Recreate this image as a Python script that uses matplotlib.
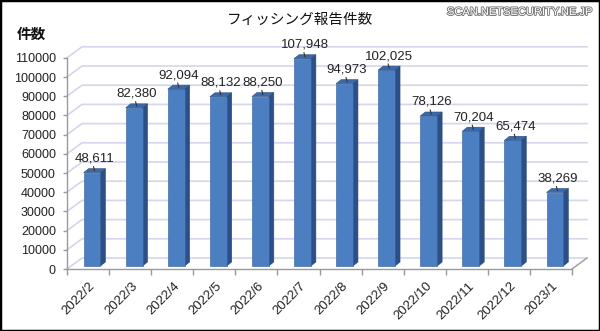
import matplotlib
matplotlib.use('Agg')
import matplotlib.pyplot as plt
import matplotlib.patheffects as pe
from matplotlib.patches import Polygon, Rectangle
from matplotlib.lines import Line2D
from matplotlib.transforms import IdentityTransform, ScaledTranslation

# データ
months = ['2022/2', '2022/3', '2022/4', '2022/5', '2022/6', '2022/7',
          '2022/8', '2022/9', '2022/10', '2022/11', '2022/12', '2023/1']
counts = [48611, 82380, 92094, 88132, 88250, 107948,
          94973, 102025, 78126, 70204, 65474, 38269]
yticks = list(range(0, 110001, 10000))

title = 'フィッシング報告件数'
ylabel = '件数'
credit = 'SCAN.NETSECURITY.NE.JP'

plt.rcParams['font.family'] = ['Liberation Sans', 'Noto Sans CJK JP', 'DejaVu Sans']

# 疑似3Dのオフセット(ピクセル)
wall_dx, wall_dy = 15, 11
bar_dx, bar_dy = 4, 3
side_dx, side_dy = 5, 4

front_c = '#4b7fc2'
side_c = '#2b4f86'
top_c = '#3b6aab'
grid_c = '#d3d6ec'
axis_c = '#9a9a9a'

fig = plt.figure(figsize=(6, 3.31), dpi=100)
ax = fig.add_axes([67 / 600, 62 / 331, 505 / 600, 211.2 / 331])
ax.set_xlim(0, len(months))
ax.set_ylim(0, 110000)
ax.patch.set_visible(False)

for s in ['top', 'right']:
    ax.spines[s].set_visible(False)
for s in ['left', 'bottom']:
    ax.spines[s].set_color(axis_c)
    ax.spines[s].set_linewidth(1.0)

ax.set_yticks(yticks)
ax.set_yticklabels([str(v) for v in yticks])
ax.tick_params(axis='y', length=3, width=1, color=axis_c, pad=5,
               labelsize=9, labelcolor='#222222')

centers = [i + 0.5 for i in range(len(months))]
ax.set_xticks(centers)
ax.set_xticklabels(months, rotation=45, ha='right', rotation_mode='anchor')
ax.set_xticks(range(len(months) + 1), minor=True)
ax.tick_params(axis='x', which='major', length=0, pad=8, labelsize=9.5,
               labelcolor='#222222')
ax.tick_params(axis='x', which='minor', length=4, width=1, color=axis_c)
shift = ScaledTranslation(1 / 100, 0, fig.dpi_scale_trans)
for lab in ax.get_xticklabels():
    lab.set_transform(lab.get_transform() + shift)

ident = IdentityTransform()


def px(x, y):
    return ax.transData.transform((x, y))


# 奥の壁のグリッド線と床
x_left = px(0, 0)[0]
x_right = px(len(months), 0)[0]
for v in yticks:
    yy = px(0, v)[1]
    ax.add_line(Line2D([x_left, x_left + wall_dx, x_right + wall_dx],
                       [yy, yy + wall_dy, yy + wall_dy], transform=ident,
                       color=grid_c, lw=1.2, zorder=0, clip_on=False))
y0 = px(0, 0)[1]
ax.add_line(Line2D([x_right, x_right + wall_dx], [y0, y0 + wall_dy],
                   transform=ident, color=axis_c, lw=1, zorder=1, clip_on=False))

# 棒(前面・側面・上面)
bw = 0.4
for c, v in zip(centers, counts):
    xl, yb = px(c - bw / 2, 0)
    xr, yt = px(c + bw / 2, v)
    xl += bar_dx; xr += bar_dx
    yb += bar_dy; yt += bar_dy
    side = [(xr, yb), (xr + side_dx, yb + side_dy),
            (xr + side_dx, yt + side_dy), (xr, yt)]
    top = [(xl, yt), (xr, yt), (xr + side_dx, yt + side_dy),
           (xl + side_dx, yt + side_dy)]
    for pts, col in [(side, side_c), (top, top_c)]:
        ax.add_patch(Polygon(pts, closed=True, transform=ident, facecolor=col,
                             edgecolor='#2a4a7a', lw=0.4, zorder=3, clip_on=False))
    ax.add_patch(Rectangle((xl, yb), xr - xl, yt - yb, transform=ident,
                           facecolor=front_c, edgecolor='#2f5a96', lw=0.4,
                           zorder=4, clip_on=False))
    # 値ラベルと引き出し線
    cx = (xl + xr + side_dx) / 2
    ax.add_line(Line2D([cx, cx - 1], [yt + side_dy - 2, yt + 6],
                       transform=ident, color='#333333', lw=0.8, zorder=5,
                       clip_on=False))
    ax.text(cx, yt + 8, f'{v:,}', transform=ident, ha='center', va='bottom',
            fontsize=9.5, color='#222222', zorder=6)

fig.text(300 / 600, 1 - 20 / 331, title, ha='center', va='center',
         fontsize=10.5, family=['Noto Sans CJK JP'], color='#111111')
fig.text(31 / 600, 1 - 34 / 331, ylabel, ha='center', va='center',
         fontsize=10.5, fontweight='bold', family=['Noto Sans CJK JP'],
         color='#111111')
fig.text(592 / 600, 1 - 12 / 331, credit, ha='right', va='center',
         fontsize=8, color='white',
         path_effects=[pe.withStroke(linewidth=1.3, foreground='#777777')])

fig.patches.append(Rectangle((0, 0), 1, 1, transform=fig.transFigure,
                             fill=False, edgecolor='black', lw=2.5))

fig.savefig('out.png', dpi=100)
